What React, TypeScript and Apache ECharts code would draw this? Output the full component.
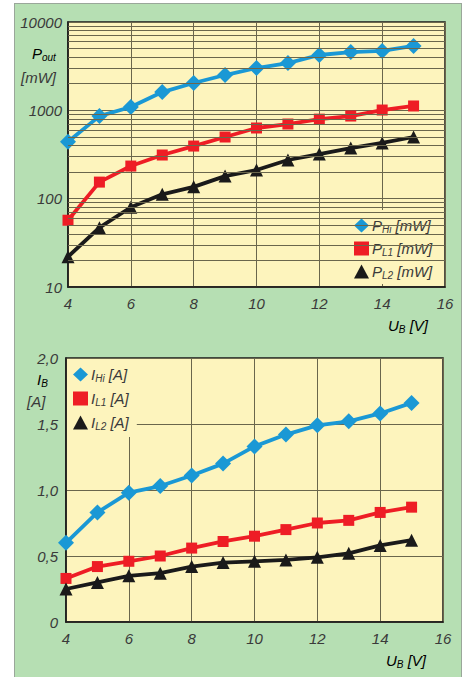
import React, { useEffect, useRef } from "react";
import * as echarts from "echarts";

const uB = [4, 5, 6, 7, 8, 9, 10, 11, 12, 13, 14, 15];
const pHi = [440, 860, 1090, 1610, 2040, 2510, 3010, 3430, 4230, 4570, 4700, 5350];
const pL1 = [57, 154, 234, 312, 394, 499, 631, 700, 795, 862, 1008, 1120];
const pL2 = [22, 47, 80, 112, 136, 180, 211, 274, 320, 374, 427, 499];
const iHi = [0.6, 0.83, 0.98, 1.03, 1.11, 1.2, 1.33, 1.42, 1.49, 1.52, 1.58, 1.66];
const iL1 = [0.33, 0.42, 0.46, 0.5, 0.56, 0.61, 0.65, 0.7, 0.75, 0.77, 0.83, 0.87];
const iL2 = [0.25, 0.3, 0.35, 0.37, 0.42, 0.45, 0.46, 0.47, 0.49, 0.52, 0.58, 0.62];
const logMinorGrid = [20, 30, 40, 50, 60, 70, 80, 90, 200, 300, 400, 500, 600, 700, 800, 900, 2000, 3000, 4000, 5000, 6000, 7000, 8000, 9000];

const FONT = "Liberation Sans";
const LABEL = "#3a3a3a";
const GRID = "#6a664c";
const BLUE = "#1a98d5";
const RED = "#ee1d25";
const BLACK = "#1a1a1a";
const YELLOW = "#fdf4bd";

const pair = (ys: number[]) => uB.map((x, i) => [x, ys[i]]);

const richBase = {
  a: { fontFamily: FONT, fontStyle: "italic", fontSize: 15, color: LABEL, lineHeight: 17 },
  s: { fontFamily: FONT, fontStyle: "italic", fontSize: 10, color: LABEL, verticalAlign: "bottom", lineHeight: 17, padding: [8, 0, 0, 0] },
};

const legendText: Record<string, string> = {
  PHi: "{a|P}{s|Hi}{a| [mW]}",
  PL1: "{a|P}{s|L1}{a| [mW]}",
  PL2: "{a|P}{s|L2}{a| [mW]}",
  IHi: "{a|I}{s|Hi}{a| [A]}",
  IL1: "{a|I}{s|L1}{a| [A]}",
  IL2: "{a|I}{s|L2}{a| [A]}",
};

function lineSeries(name: string, data: number[][], color: string, symbol: string, size: number, idx: number) {
  return {
    type: "line",
    name,
    data,
    xAxisIndex: idx,
    yAxisIndex: idx,
    symbol,
    symbolSize: size,
    lineStyle: { color, width: 3.8 },
    itemStyle: { color },
    z: 3,
  };
}

export default function App() {
  const ref = useRef<HTMLDivElement>(null);
  useEffect(() => {
    document.body.style.margin = "0";
    const chart = echarts.init(ref.current!, null, { renderer: "svg" });
    const axisLabel = { fontFamily: FONT, fontStyle: "italic", fontSize: 15, color: LABEL };
    const xAxisBase = {
      type: "value",
      min: 4,
      max: 16,
      interval: 2,
      axisLine: { show: true, lineStyle: { color: BLACK, width: 1.5 } },
      axisTick: { show: false },
      splitLine: { show: true, lineStyle: { color: GRID, width: 1 } },
      axisLabel: { ...axisLabel, margin: 9 },
    };
    const legendBase = {
      orient: "vertical",
      itemWidth: 15,
      itemHeight: 14,
      selectedMode: false,
      backgroundColor: YELLOW,
      formatter: (n: string) => legendText[n],
      textStyle: { rich: richBase, padding: [0, 0, 0, -2] },
    };
    const option: any = {
      animation: false,
      grid: [
        { left: 68, top: 22, width: 377, height: 265, show: true, backgroundColor: YELLOW, borderColor: BLACK, borderWidth: 1.5 },
        { left: 66, top: 358, width: 377, height: 264, show: true, backgroundColor: YELLOW, borderColor: BLACK, borderWidth: 1.5 },
      ],
      xAxis: [
        { ...xAxisBase, gridIndex: 0 },
        { ...xAxisBase, gridIndex: 1 },
      ],
      yAxis: [
        {
          type: "log",
          logBase: 10,
          min: 10,
          max: 10000,
          gridIndex: 0,
          axisLine: { show: true, lineStyle: { color: BLACK, width: 1.5 } },
          axisTick: { show: false },
          splitLine: { show: true, lineStyle: { color: GRID, width: 1 } },
          axisLabel: { ...axisLabel, margin: 6, formatter: (v: number) => String(Math.round(v)) },
        },
        {
          type: "value",
          min: 0,
          max: 2,
          interval: 0.5,
          gridIndex: 1,
          axisLine: { show: true, lineStyle: { color: BLACK, width: 1.5 } },
          axisTick: { show: false },
          splitLine: { show: true, lineStyle: { color: GRID, width: 1 } },
          axisLabel: { ...axisLabel, margin: 8, formatter: (v: number) => (v === 0 ? "0" : v.toFixed(1).replace(".", ",")) },
        },
      ],
      legend: [
        {
          ...legendBase,
          data: [
            { name: "PHi", icon: "diamond" },
            { name: "PL1", icon: "rect" },
            { name: "PL2", icon: "triangle" },
          ],
          left: 348,
          top: 210,
          itemGap: 5,
          padding: [6, 10, 4, 6],
        },
        {
          ...legendBase,
          data: [
            { name: "IHi", icon: "diamond" },
            { name: "IL1", icon: "rect" },
            { name: "IL2", icon: "triangle" },
          ],
          left: 67,
          top: 359,
          itemGap: 6,
          padding: [6, 8, 6, 6],
        },
      ],
      series: [
        {
          type: "line",
          name: "grid",
          data: [],
          xAxisIndex: 0,
          yAxisIndex: 0,
          z: 1,
          markLine: {
            silent: true,
            symbol: "none",
            label: { show: false },
            lineStyle: { color: GRID, width: 1, type: "solid" },
            data: logMinorGrid.map((v) => ({ yAxis: v })),
          },
        },
        lineSeries("PHi", pair(pHi), BLUE, "diamond", 16, 0),
        lineSeries("PL1", pair(pL1), RED, "rect", 11, 0),
        lineSeries("PL2", pair(pL2), BLACK, "triangle", 13, 0),
        lineSeries("IHi", pair(iHi), BLUE, "diamond", 16, 1),
        lineSeries("IL1", pair(iL1), RED, "rect", 11, 1),
        lineSeries("IL2", pair(iL2), BLACK, "triangle", 13, 1),
      ],
      graphic: [
        {
          type: "text",
          x: 32,
          y: 45,
          style: { text: "{a|P}{s|out}", rich: richBase },
        },
        {
          type: "text",
          x: 21,
          y: 70,
          style: { text: "[mW]", font: `italic 15px "${FONT}"`, fill: LABEL },
        },
        {
          type: "text",
          x: 388,
          y: 317,
          style: { text: "{a|U}{s|B}{a| [V]}", rich: richBase },
        },
        {
          type: "text",
          x: 37,
          y: 371,
          style: { text: "{a|I}{s|B}", rich: richBase },
        },
        {
          type: "text",
          x: 27,
          y: 394,
          style: { text: "[A]", font: `italic 15px "${FONT}"`, fill: LABEL },
        },
        {
          type: "text",
          x: 386,
          y: 652,
          style: { text: "{a|U}{s|B}{a| [V]}", rich: richBase },
        },
      ],
    };
    chart.setOption(option);
    return () => chart.dispose();
  }, []);
  return (
    <div style={{ position: "relative", width: 469, height: 677, background: "#ffffff", overflow: "hidden" }}>
      <div
        style={{
          position: "absolute",
          left: 14,
          top: 3,
          width: 448,
          height: 680,
          background: "#b6dfb3",
          border: "1px solid #9aa79a",
          boxSizing: "border-box",
        }}
      />
      <div ref={ref} style={{ position: "absolute", left: 0, top: 0, width: 469, height: 677 }} />
    </div>
  );
}
